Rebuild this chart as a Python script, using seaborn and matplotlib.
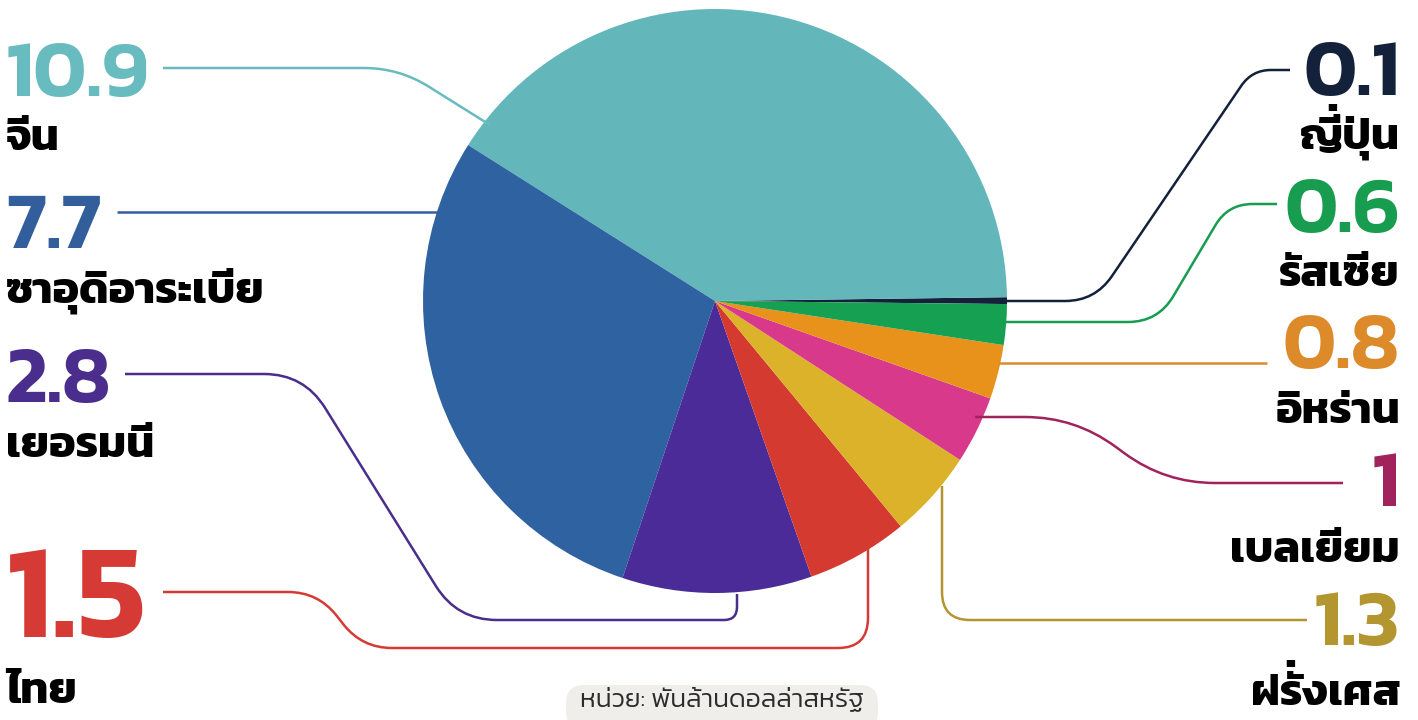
import matplotlib
matplotlib.use("Agg")
import matplotlib.pyplot as plt
from matplotlib.path import Path
from matplotlib.patches import PathPatch, FancyBboxPatch
import numpy as np
import seaborn as sns

# ---------------- data (pie order, counter-clockwise from 3 o'clock) ----------------
countries = ["ญี่ปุ่น", "จีน", "ซาอุดิอาระเบีย", "เยอรมนี", "ไทย",
             "ฝรั่งเศส", "เบลเยียม", "อิหร่าน", "รัสเซีย"]
values = [0.1, 10.9, 7.7, 2.8, 1.5, 1.3, 1.0, 0.8, 0.6]
value_labels = ["0.1", "10.9", "7.7", "2.8", "1.5", "1.3", "1", "0.8", "0.6"]
slice_colors = ["#14213a", "#63b7ba", "#2f62a1", "#4b2b98", "#d43a30",
                "#dcb22a", "#d8398a", "#e8921c", "#16a052"]
text_colors = ["#14213a", "#68bbbf", "#325f9c", "#4a2d8c", "#d63a34",
               "#b3962f", "#a0235e", "#dc8a2a", "#189c50"]
caption = "หน่วย: พันล้านดอลล่าสหรัฐ"

# ---------------- style ----------------
sns.set_theme(style="white")
plt.rcParams["font.family"] = ["Kanit", "DejaVu Sans"]

W, H = 1418, 720
fig = plt.figure(figsize=(W / 100, H / 100), dpi=100)
ax = fig.add_axes([0, 0, 1, 1])

def Y(y):
    return H - y

CX, CY, R = 715, 301, 292
ax.pie(values, colors=slice_colors, startangle=-0.6, counterclock=True,
       center=(CX, Y(CY)), radius=R,
       wedgeprops=dict(linewidth=0, edgecolor="none"))
ax.set_xlim(0, W)
ax.set_ylim(0, H)
ax.set_aspect("equal")
ax.axis("off")

def rounded_path(pts, r):
    pts = [np.array([x, Y(y)], dtype=float) for x, y in pts]
    verts = [pts[0]]
    codes = [Path.MOVETO]
    for i in range(1, len(pts) - 1):
        p0, p1, p2 = pts[i - 1], pts[i], pts[i + 1]
        d1 = p1 - p0; l1 = np.linalg.norm(d1)
        d2 = p2 - p1; l2 = np.linalg.norm(d2)
        rr = min(r, l1 / 2, l2 / 2)
        a = p1 - d1 / l1 * rr
        b = p1 + d2 / l2 * rr
        verts += [a, p1, b]
        codes += [Path.LINETO, Path.CURVE3, Path.CURVE3]
    verts.append(pts[-1])
    codes.append(Path.LINETO)
    return Path(verts, codes)

# leader lines (layout, in pixel coords) keyed by country index
leaders = {
    0: ([(985, 301), (1095, 301), (1252, 70), (1290, 70)], 30),
    1: ([(163, 68), (399, 68), (490, 125)], 35),
    2: ([(117, 212), (438, 212)], 0),
    3: ([(125, 374), (304, 374), (457, 620), (737, 620), (737, 594)], 40),
    4: ([(163, 592), (318, 592), (362, 648), (868, 648), (868, 548)], 30),
    5: ([(942, 486), (942, 620), (1307, 620)], 28),
    6: ([(975, 417), (1075, 417), (1165, 483), (1343, 483)], 50),
    7: ([(998, 363), (1267, 363)], 0),
    8: ([(1003, 322), (1158, 322), (1228, 204), (1277, 204)], 30),
}
for i, (pts, r) in leaders.items():
    ax.add_patch(PathPatch(rounded_path(pts, r), fill=False,
                           edgecolor=text_colors[i], linewidth=1.8,
                           capstyle="butt", joinstyle="round", zorder=3))

# ---- Thai text helper: matplotlib does no shaping, so stacked tone marks
# are placed by hand ----
TONES = set("\u0e48\u0e49\u0e4a\u0e4b")
UPPER = set("\u0e31\u0e34\u0e35\u0e36\u0e37\u0e47")
LOWER = set("\u0e38\u0e39\u0e3a")
ASC = set("\u0e1b\u0e1d\u0e1f\u0e2c")
renderer = fig.canvas.get_renderer()

def _ink_width(s, fs, **kw):
    tmp = ax.text(0, 0, s, fontsize=fs, **kw)
    w = tmp.get_window_extent(renderer).width
    tmp.remove()
    return w

def thai_text(x, y, s, ha, fs, **kw):
    out, marks = "", []
    for ch in s:
        if ch in TONES and out:
            prev = out[-1]
            j = len(out) - 1
            while j > 0 and (out[j] in UPPER or out[j] in LOWER):
                j -= 1
            if prev in UPPER:
                marks.append((len(out), ch, "raise"))
                continue
            if out[j] in ASC:
                marks.append((len(out), ch, "left"))
                continue
        out += ch
    t = ax.text(x, Y(y), out, ha=ha, va="baseline", fontsize=fs, **kw)
    if not marks:
        return
    em = fs * 100 / 72
    left = t.get_window_extent(renderer).x0
    for n, ch, mode in marks:
        tmp = ax.text(left, Y(y), out[:n], ha="left", va="baseline", fontsize=fs, **kw)
        right = tmp.get_window_extent(renderer).x1
        tmp.remove()
        if mode == "raise":
            xc, dy = right - 0.12 * em, 0.26 * em
        else:
            xc, dy = right - 0.38 * em, 0.0
        wm = _ink_width(ch, fs, **kw)
        # no-break space gives the mark a base so the text has a real extent
        ax.text(xc + wm / 2, Y(y) + dy, "\u00a0" + ch, ha="right",
                va="baseline", fontsize=fs, **kw)

# labels: (x, number baseline, name baseline, align, number size)
label_pos = {
    1: (6, 96, 150, "left", 58),
    2: (6, 248, 303, "left", 58),
    3: (6, 402, 457, "left", 58),
    4: (6, 637, 703, "left", 96),
    0: (1400, 95, 149, "right", 58),
    8: (1400, 232, 286, "right", 58),
    7: (1400, 368, 423, "right", 58),
    6: (1400, 506, 562, "right", 58),
    5: (1400, 645, 705, "right", 58),
}
for i, (x, nb, tb, ha, fs) in label_pos.items():
    ax.text(x, Y(nb), value_labels[i], color=text_colors[i], fontsize=fs,
            fontweight=600, ha=ha, va="baseline", zorder=4)
    thai_text(x, tb, countries[i], ha, 32, color="black", fontweight=700, zorder=4)

# caption in a rounded pill
ax.add_patch(FancyBboxPatch((566, Y(730)), 312, 45,
                            boxstyle="round,pad=0,rounding_size=18",
                            facecolor="#efeeea", edgecolor="none", zorder=2))
thai_text(722, 706, caption, "center", 19, color="#2b2b2b", fontweight=300, zorder=4)

fig.savefig("out.png", dpi=100)
